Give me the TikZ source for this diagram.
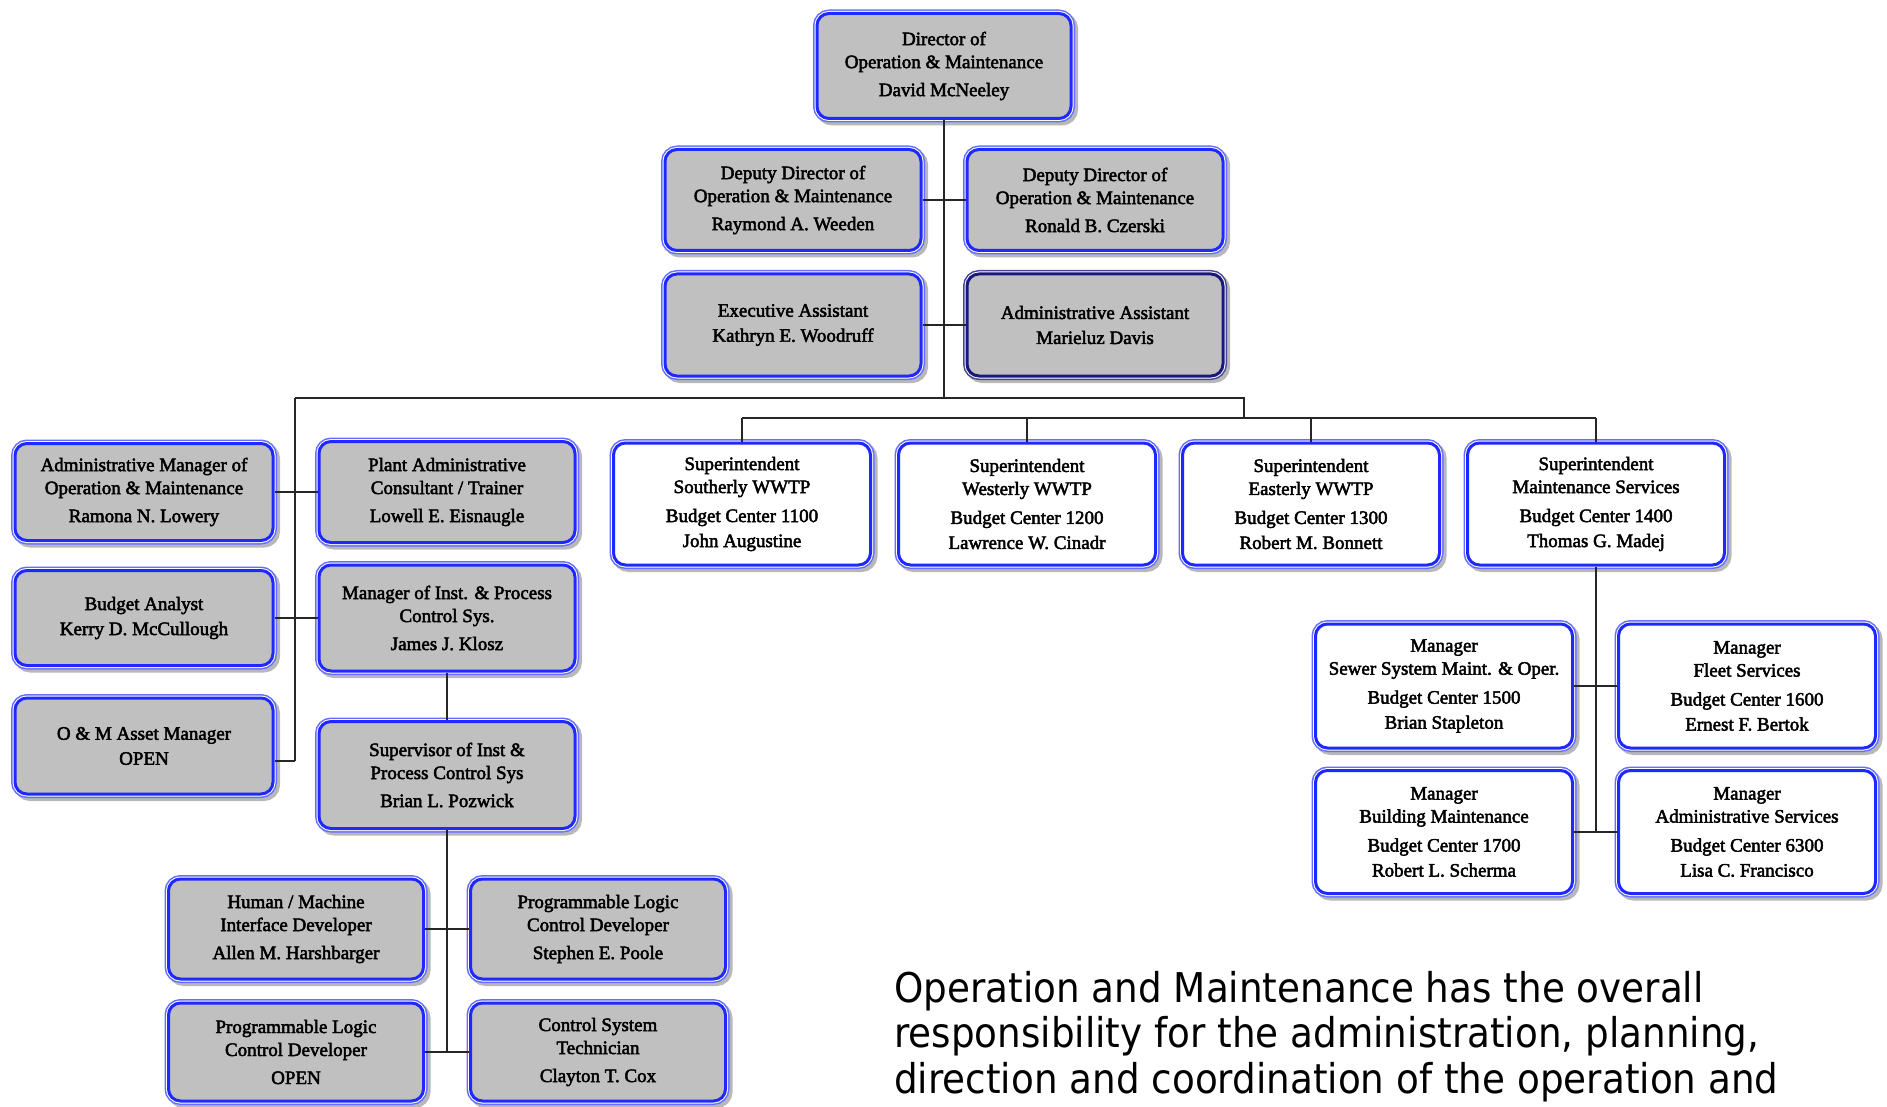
\documentclass[tikz,border=0pt]{standalone}
\usepackage{fontspec}
\setmainfont{Liberation Serif}
\newfontfamily\boxfont[FakeBold=2.5]{Liberation Serif}
\newfontfamily\tahoma[FakeStretch=0.91]{DejaVu Sans}
\definecolor{bblue}{RGB}{30,40,255}
\definecolor{oblue}{RGB}{100,110,255}
\definecolor{navyb}{RGB}{25,25,125}
\definecolor{boxgray}{RGB}{192,192,192}
\tikzset{
  base/.style={rectangle, rounded corners=12pt, align=center, inner sep=0pt,
    font=\boxfont\fontsize{19}{23}\selectfont, line width=3pt, text=black},
  shadowed/.style={preaction={fill=black!28, draw=black!28, line width=8pt,
    transform canvas={shift={(3pt,-3pt)}}}},
  bluebox/.style={base, shadowed, draw=bblue,
    preaction={draw=oblue, line width=8pt},
    preaction={draw=white, line width=5pt}},
  graybox/.style={bluebox, fill=boxgray},
  whitebox/.style={bluebox, fill=white},
  navybox/.style={base, shadowed, draw=navyb, fill=boxgray,
    preaction={draw=navyb!80, line width=8pt},
    preaction={draw=white, line width=5pt}},
  conn/.style={draw=black!85, line width=1.8pt},
}
\begin{document}
\begin{tikzpicture}[x=1pt, y=-1pt]
\useasboundingbox[fill=white] (0,0) rectangle (1887,1107);

% top
\node[graybox, minimum width=254pt, minimum height=105pt] (dir) at (944,66)
  {Director of\\Operation \& Maintenance\\[5pt]David McNeeley};
\node[graybox, minimum width=256pt, minimum height=101pt] (dep1) at (793,200)
  {Deputy Director of\\Operation \& Maintenance\\[5pt]Raymond A. Weeden};
\node[graybox, minimum width=256pt, minimum height=101pt] (dep2) at (1095,200)
  {Deputy Director of\\Operation \& Maintenance\\[5pt]Ronald B. Czerski};
\node[graybox, minimum width=256pt, minimum height=102pt] (exec) at (793,325)
  {Executive Assistant\\[2pt]Kathryn E. Woodruff};
\node[navybox, minimum width=256pt, minimum height=102pt] (adm) at (1095,325)
  {Administrative Assistant\\[2pt]Marieluz Davis};

% left columns
\node[graybox, minimum width=258pt, minimum height=97pt] (amgr) at (144,492)
  {Administrative Manager of\\Operation \& Maintenance\\[5pt]Ramona N. Lowery};
\node[graybox, minimum width=258pt, minimum height=95pt] (bud) at (144,618)
  {Budget Analyst\\[2pt]Kerry D. McCullough};
\node[graybox, minimum width=258pt, minimum height=96pt] (asset) at (144,746)
  {O \& M Asset Manager\\[2pt]OPEN};
\node[graybox, minimum width=256pt, minimum height=101pt] (plant) at (447,492)
  {Plant Administrative\\Consultant / Trainer\\[5pt]Lowell E. Eisnaugle};
\node[graybox, minimum width=256pt, minimum height=106pt] (mgri) at (447,618)
  {Manager of Inst. \& Process\\Control Sys.\\[5pt]James J. Klosz};
\node[graybox, minimum width=256pt, minimum height=107pt] (sup) at (447,775)
  {Supervisor of Inst \&\\Process Control Sys\\[5pt]Brian L. Pozwick};

% bottom left
\node[graybox, minimum width=255pt, minimum height=100pt] (hmi) at (296,929)
  {Human / Machine\\Interface Developer\\[5pt]Allen M. Harshbarger};
\node[graybox, minimum width=255pt, minimum height=100pt] (plc1) at (598,929)
  {Programmable Logic\\Control Developer\\[5pt]Stephen E. Poole};
\node[graybox, minimum width=255pt, minimum height=98pt] (plc2) at (296,1052)
  {Programmable Logic\\Control Developer\\[5pt]OPEN};
\node[graybox, minimum width=255pt, minimum height=98pt] (ctl) at (598,1052)
  {Control System\\Technician\\[5pt]Clayton T. Cox};

% superintendents
\node[whitebox, minimum width=257pt, minimum height=122pt] (s1) at (742,504)
  {Superintendent\\Southerly WWTP\\[6pt]Budget Center 1100\\[2pt]John Augustine};
\node[whitebox, minimum width=257pt, minimum height=122pt] (s2) at (1027,504)
  {Superintendent\\Westerly WWTP\\[6pt]Budget Center 1200\\[2pt]Lawrence W. Cinadr};
\node[whitebox, minimum width=257pt, minimum height=122pt] (s3) at (1311,504)
  {Superintendent\\Easterly WWTP\\[6pt]Budget Center 1300\\[2pt]Robert M. Bonnett};
\node[whitebox, minimum width=257pt, minimum height=122pt] (s4) at (1596,504)
  {Superintendent\\Maintenance Services\\[6pt]Budget Center 1400\\[2pt]Thomas G. Madej};

% right managers
\node[whitebox, minimum width=257pt, minimum height=124pt] (m1) at (1444,686)
  {Manager\\Sewer System Maint. \& Oper.\\[6pt]Budget Center 1500\\[2pt]Brian Stapleton};
\node[whitebox, minimum width=257pt, minimum height=124pt] (m2) at (1747,686)
  {Manager\\Fleet Services\\[6pt]Budget Center 1600\\[2pt]Ernest F. Bertok};
\node[whitebox, minimum width=257pt, minimum height=123pt] (m3) at (1444,832)
  {Manager\\Building Maintenance\\[6pt]Budget Center 1700\\[2pt]Robert L. Scherma};
\node[whitebox, minimum width=257pt, minimum height=123pt] (m4) at (1747,832)
  {Manager\\Administrative Services\\[6pt]Budget Center 6300\\[2pt]Lisa C. Francisco};

% description (base anchor = baseline of last line)
\node[anchor=base west, align=left, inner sep=0pt,
  font=\tahoma\fontsize{41}{45.5}\selectfont] (desc) at (894,1093)
  {Operation and Maintenance has the overall\\
   responsibility for the administration, planning,\\
   direction and coordination of the operation and};

% connectors
\coordinate (busL) at (295,398);
\coordinate (busR) at (1244,398);
\coordinate (bus2) at (0,418);
\coordinate (astub) at (295,761);

\draw[conn] (dir.south) -- (dir.south |- busL);
\draw[conn] (dep1.east) -- (dep2.west);
\draw[conn] (exec.east) -- (adm.west);
\draw[conn] (busL) -- (busR) -- (busR |- bus2);
\draw[conn] (s1.north |- bus2) -- (s4.north |- bus2);
\foreach \s in {s1,s2,s3,s4} \draw[conn] (\s.north) -- (\s.north |- bus2);

\draw[conn] (busL) -- (astub);
\draw[conn] (amgr.east) -- (plant.west);
\draw[conn] (bud.east) -- (mgri.west);
\draw[conn] (asset.east |- astub) -- (astub);

\draw[conn] (mgri.south) -- (sup.north);
\draw[conn] (sup.south) -- (sup.south |- plc2.east);
\draw[conn] (hmi.east) -- (plc1.west);
\draw[conn] (plc2.east) -- (ctl.west);

\draw[conn] (s4.south) -- (s4.south |- m3.east);
\draw[conn] (m1.east) -- (m2.west);
\draw[conn] (m3.east) -- (m4.west);
\end{tikzpicture}
\end{document}
